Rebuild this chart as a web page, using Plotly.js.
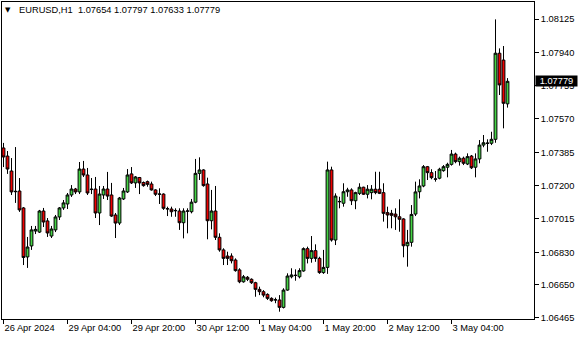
<!DOCTYPE html>
<html>
<head>
<meta charset="utf-8">
<script src="https://cdn.plot.ly/plotly-3.0.1.min.js"></script>
<style>
  html, body { margin: 0; padding: 0; background: #ffffff; }
  #chart { width: 580px; height: 340px; }
</style>
</head>
<body>
<div id="chart"></div>
<script>
// EURUSD H1 bars, 26 Apr 2024 12:00 .. 3 May 2024 18:00 (weekend skipped)
const symbol = "EURUSD,H1";
const firstBarTime = "2024-04-26 12:00";

const openP = [
  1.07409,1.07364,1.07281,1.07166,1.07170,1.07076,1.06804,1.06865,1.06948,1.06942,
  1.07059,1.07004,1.06920,1.06954,1.07026,1.07076,1.07098,1.07148,1.07181,1.07165,
  1.07292,1.07259,1.07178,1.07181,1.07048,1.07148,1.07181,1.07148,1.07037,1.06992,
  1.07126,1.07165,1.07265,1.07215,1.07245,1.07217,1.07222,1.07209,1.07176,1.07152,
  1.07153,1.07070,1.07070,1.07060,1.07059,1.06994,1.07058,1.07055,1.07108,1.07268,
  1.07287,1.07209,1.07005,1.07059,1.06913,1.06843,1.06809,1.06809,1.06787,1.06732,
  1.06666,1.06691,1.06680,1.06661,1.06624,1.06611,1.06596,1.06574,1.06565,1.06565,
  1.06524,1.06620,1.06694,1.06701,1.06694,1.06726,1.06850,1.06796,1.06839,1.06796,
  1.06717,1.06746,1.07287,1.06898,1.07110,1.07102,1.07166,1.07176,1.07116,1.07157,
  1.07191,1.07152,1.07161,1.07180,1.07180,1.07161,1.07050,1.07046,1.07042,1.07027,
  1.07015,1.06866,1.06885,1.07042,1.07166,1.07198,1.07305,1.07272,1.07235,1.07241,
  1.07283,1.07302,1.07318,1.07375,1.07333,1.07352,1.07320,1.07364,1.07302,1.07348,
  1.07425,1.07434,1.07435,1.07457,1.07935,1.07897,1.07654
];
const highP = [
  1.07437,1.07392,1.07353,1.07414,1.07242,1.07081,1.06915,1.06976,1.06976,1.07065,
  1.07076,1.07020,1.06976,1.07037,1.07081,1.07120,1.07159,1.07203,1.07187,1.07331,
  1.07337,1.07298,1.07242,1.07248,1.07198,1.07198,1.07276,1.07215,1.07048,1.07137,
  1.07187,1.07292,1.07303,1.07253,1.07248,1.07223,1.07228,1.07222,1.07180,1.07185,
  1.07157,1.07083,1.07083,1.07074,1.07074,1.07074,1.07074,1.07126,1.07348,1.07357,
  1.07291,1.07244,1.07176,1.07198,1.06935,1.06852,1.06833,1.06824,1.06796,1.06741,
  1.06704,1.06698,1.06685,1.06666,1.06639,1.06620,1.06602,1.06580,1.06578,1.06592,
  1.06630,1.06713,1.06741,1.06735,1.06741,1.06857,1.06861,1.06920,1.06874,1.06805,
  1.06843,1.07333,1.07305,1.07157,1.07138,1.07213,1.07188,1.07185,1.07166,1.07213,
  1.07194,1.07203,1.07203,1.07277,1.07277,1.07213,1.07083,1.07065,1.07074,1.07124,
  1.07019,1.06954,1.07092,1.07222,1.07235,1.07314,1.07309,1.07291,1.07281,1.07299,
  1.07314,1.07327,1.07398,1.07383,1.07361,1.07361,1.07379,1.07370,1.07379,1.07453,
  1.07481,1.07457,1.07499,1.08123,1.07962,1.07975,1.07797
];
const lowP = [
  1.07303,1.07265,1.07148,1.07104,1.07054,1.06759,1.06743,1.06843,1.06931,1.06937,
  1.06970,1.06915,1.06909,1.06942,1.07009,1.07065,1.07070,1.07137,1.07153,1.07153,
  1.07248,1.07148,1.07153,1.07020,1.06981,1.07126,1.07120,1.07026,1.06909,1.06981,
  1.07120,1.07159,1.07209,1.07187,1.07153,1.07194,1.07194,1.07172,1.07142,1.07098,
  1.07065,1.07031,1.07027,1.07027,1.06954,1.06907,1.06935,1.07046,1.07102,1.07231,
  1.07194,1.06902,1.06957,1.06898,1.06833,1.06759,1.06759,1.06768,1.06722,1.06658,
  1.06661,1.06670,1.06654,1.06583,1.06592,1.06580,1.06565,1.06555,1.06547,1.06500,
  1.06518,1.06616,1.06685,1.06672,1.06685,1.06722,1.06768,1.06772,1.06777,1.06710,
  1.06710,1.06710,1.06889,1.06870,1.07074,1.07083,1.07138,1.07092,1.07069,1.07148,
  1.07148,1.07129,1.07124,1.07152,1.07153,1.07000,1.06963,1.06963,1.06954,1.06944,
  1.06802,1.06750,1.06861,1.07031,1.07129,1.07191,1.07231,1.07235,1.07222,1.07235,
  1.07277,1.07246,1.07311,1.07324,1.07311,1.07314,1.07314,1.07292,1.07246,1.07324,
  1.07413,1.07388,1.07425,1.07438,1.07703,1.07518,1.07633
];
const closeP = [
  1.07359,1.07292,1.07165,1.07168,1.07065,1.06801,1.06859,1.06954,1.06957,1.07059,
  1.06998,1.06937,1.06959,1.07026,1.07076,1.07104,1.07148,1.07181,1.07165,1.07292,
  1.07259,1.07159,1.07180,1.07048,1.07153,1.07181,1.07142,1.07031,1.06992,1.07131,
  1.07170,1.07259,1.07215,1.07248,1.07215,1.07200,1.07207,1.07176,1.07152,1.07153,
  1.07074,1.07072,1.07055,1.07062,1.06994,1.07059,1.07059,1.07108,1.07268,1.07287,
  1.07200,1.07005,1.07059,1.06913,1.06843,1.06796,1.06796,1.06783,1.06728,1.06666,
  1.06694,1.06680,1.06661,1.06624,1.06611,1.06592,1.06574,1.06561,1.06566,1.06524,
  1.06620,1.06698,1.06704,1.06702,1.06728,1.06850,1.06796,1.06839,1.06796,1.06717,
  1.06746,1.07287,1.06898,1.07142,1.07112,1.07166,1.07176,1.07116,1.07161,1.07191,
  1.07152,1.07180,1.07180,1.07161,1.07157,1.07046,1.07037,1.07035,1.07027,1.07013,
  1.06866,1.06885,1.07040,1.07165,1.07198,1.07305,1.07272,1.07244,1.07237,1.07291,
  1.07305,1.07318,1.07375,1.07333,1.07352,1.07324,1.07361,1.07299,1.07348,1.07425,
  1.07438,1.07436,1.07457,1.07935,1.07759,1.07657,1.07779
];

const priceTickVals = [1.06465,1.06650,1.06830,1.07015,1.07200,1.07385,1.07570,1.07755,1.07940,1.08125];
const priceTickText = ["1.06465","1.06650","1.06830","1.07015","1.07200","1.07385","1.07570","1.07755","1.07940","1.08125"];

const timeTickVals = ["2024-04-26 12:00","2024-04-29 04:00","2024-04-29 20:00","2024-04-30 12:00",
                      "2024-05-01 04:00","2024-05-01 20:00","2024-05-02 12:00","2024-05-03 04:00"];
const timeTickText = ["26 Apr 2024","29 Apr 04:00","29 Apr 20:00","30 Apr 12:00",
                      "1 May 04:00","1 May 20:00","2 May 12:00","3 May 04:00"];

// hourly bar times, skipping the weekend
function pad(n){ return (n < 10 ? "0" : "") + n; }
function fmt(d){
  return d.getUTCFullYear() + "-" + pad(d.getUTCMonth()+1) + "-" + pad(d.getUTCDate()) +
         " " + pad(d.getUTCHours()) + ":00";
}
const times = [];
let t = new Date(firstBarTime.replace(" ", "T") + ":00Z");
while (times.length < openP.length) {
  const wd = t.getUTCDay();
  if (wd !== 0 && wd !== 6) times.push(fmt(t));
  t = new Date(t.getTime() + 3600000);
}

const FONT = "Liberation Sans, Arial, sans-serif";
const n = openP.length;
const lastClose = closeP[n-1];

const trace = {
  type: "candlestick",
  x: times,
  open: openP, high: highP, low: lowP, close: closeP,
  increasing: { line: { color: "#000000", width: 1 }, fillcolor: "#44d444" },
  decreasing: { line: { color: "#000000", width: 1 }, fillcolor: "#f00000" },
  whiskerwidth: 0,
  hoverinfo: "skip",
  showlegend: false
};

const layout = {
  width: 580, height: 340,
  margin: { l: 2, r: 46, t: 2, b: 21, pad: 0 },
  paper_bgcolor: "#ffffff",
  plot_bgcolor: "#ffffff",
  font: { family: FONT, size: 9.3, color: "#000000" },
  showlegend: false,
  dragmode: false,
  boxgap: 0,
  xaxis: {
    type: "category",
    range: [-0.375, 132.625],
    tickvals: timeTickVals,
    ticktext: timeTickText,
    ticks: "outside", ticklen: 4, tickcolor: "#000000", tickwidth: 1,
    ticklabelposition: "outside right",
    tickfont: { family: FONT, size: 9.3, color: "#000000" },
    showgrid: false, zeroline: false,
    showline: true, mirror: true, linecolor: "#000000", linewidth: 1,
    rangeslider: { visible: false },
    fixedrange: true
  },
  yaxis: {
    side: "right",
    range: [1.064594, 1.082194],
    tickvals: priceTickVals,
    ticktext: priceTickText,
    ticks: "outside", ticklen: 4, tickcolor: "#000000", tickwidth: 1,
    tickfont: { family: FONT, size: 9.3, color: "#000000" },
    showgrid: false, zeroline: false,
    showline: true, mirror: true, linecolor: "#000000", linewidth: 1,
    fixedrange: true
  },
  annotations: [
    {
      xref: "paper", yref: "paper", x: 0.0113, y: 0.975,
      xanchor: "center", yanchor: "middle",
      text: "▼", showarrow: false,
      font: { family: "DejaVu Sans, sans-serif", size: 7, color: "#000000" }
    },
    {
      xref: "paper", yref: "paper", x: 0.028, y: 0.975,
      xanchor: "left", yanchor: "middle",
      text: symbol + "  " + openP[n-1].toFixed(5) + " " + highP[n-1].toFixed(5) + " " +
            lowP[n-1].toFixed(5) + " " + closeP[n-1].toFixed(5),
      showarrow: false,
      font: { family: FONT, size: 9.3, color: "#000000" }
    },
    {
      xref: "paper", yref: "y", x: 1, y: lastClose,
      xanchor: "left", yanchor: "middle", xshift: 1,
      text: lastClose.toFixed(5), showarrow: false,
      bgcolor: "#000000", borderpad: 0, width: 41, height: 10, align: "center",
      font: { family: FONT, size: 9.3, color: "#ffffff" }
    }
  ]
};

Plotly.newPlot("chart", [trace], layout, { staticPlot: true, displayModeBar: false });
</script>
</body>
</html>
